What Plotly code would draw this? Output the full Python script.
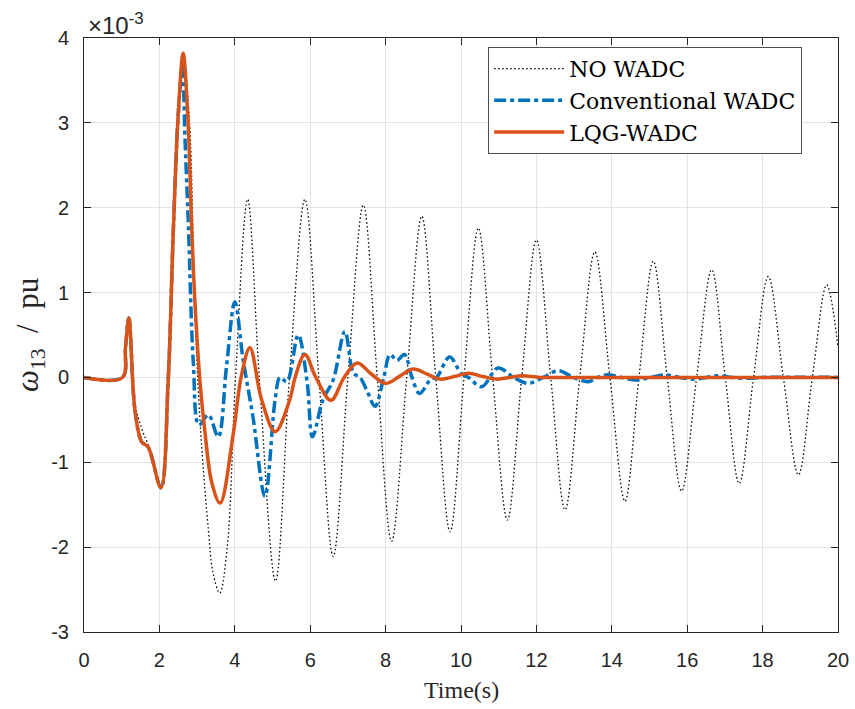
import plotly.graph_objects as go

# ---- data (values in units of 1e-3 pu) ----
t_no = [0, 1.02, 1.1, 1.19, 1.35, 1.53, 1.72, 2.04, 2.25, 2.37, 2.5, 2.65, 2.8, 2.94, 3.05,
        3.16, 3.3, 3.42, 3.6, 3.8, 4.02, 4.34, 4.65, 5.08, 5.45, 5.86, 6.23, 6.61, 7.0, 7.41,
        7.78, 8.16, 8.56, 8.96, 9.33, 9.71, 10.08, 10.46, 10.84, 11.23, 11.61, 12.0, 12.38,
        12.76, 13.15, 13.55, 13.95, 14.35, 14.72, 15.1, 15.47, 15.85, 16.25, 16.65, 17.01,
        17.38, 17.76, 18.15, 18.55, 18.95, 19.32, 19.7, 20.0]
y_no = [0, 0, 0.35, 0.70, -0.30, -0.60, -0.82, -1.30, 0.0, 1.74, 3.1, 3.7, 3.0, 0.8, -0.3,
        -1.05, -1.8, -2.3, -2.54, -2.0, 0.0, 2.10, 0.0, -2.40, 0.0, 2.10, 0.0, -2.11, 0.0, 2.03,
        0.0, -1.93, 0.0, 1.90, 0.0, -1.82, 0.0, 1.76, 0.0, -1.68, 0.0, 1.62, 0.0,
        -1.56, 0.0, 1.48, 0.0, -1.46, 0.0, 1.37, 0.0, -1.34, 0.0, 1.27, 0.0,
        -1.25, 0.0, 1.19, 0.0, -1.15, 0.0, 1.09, 0.36]

t_conv = [0, 1.02, 1.1, 1.19, 1.35, 1.53, 1.7, 2.04, 2.23, 2.37, 2.5, 2.61, 2.68, 2.77, 2.9,
          3.05, 3.3, 3.56, 3.78, 4.0, 4.22, 4.48, 4.8, 5.07, 5.2, 5.38, 5.68, 5.92, 6.06, 6.34,
          6.61, 6.92, 7.15, 7.32, 7.5, 7.72, 7.95, 8.12, 8.3, 8.5, 8.7, 8.9, 9.2, 9.35, 9.7,
          10.0, 10.2, 10.55, 10.98, 11.4, 11.78, 12.18, 12.58, 12.98, 13.38, 13.62, 13.86,
          14.26, 14.66, 15.03, 15.4, 15.8, 16.2, 16.5, 16.8, 17.2, 17.6, 18.0, 20.0]
y_conv = [0, 0, 0.35, 0.70, -0.38, -0.76, -0.82, -1.30, -0.07, 1.74, 3.1, 3.65, 2.8, 1.78, 0.17,
          -0.56, -0.44, -0.70, 0.13, 0.89, 0.21, -0.46, -1.40, -0.26, 0.0, -0.05, 0.50, -0.06, -0.70, -0.26,
          -0.03, 0.54, 0.05, 0.0, -0.15, -0.34, 0.0, 0.27, 0.20, 0.27, 0.0, -0.19, -0.02, 0.0, 0.24,
          0.05, 0.0, -0.11, 0.11, 0.0, -0.07, 0.0, 0.08, 0.0, -0.05, 0.0, 0.03,
          0.0, -0.03, 0.0, 0.03, 0.0, -0.02, 0.0, 0.02, 0.0, -0.01, 0.0, 0.0]

t_lqg = [0, 1.02, 1.1, 1.19, 1.35, 1.53, 1.7, 2.04, 2.23, 2.37, 2.5, 2.63, 2.75, 2.86, 2.94,
         3.08, 3.21, 3.39, 3.61, 3.96, 4.17, 4.4, 4.71, 5.07, 5.46, 5.6, 5.86, 6.15, 6.55,
         6.9, 7.25, 7.62, 8.0, 8.36, 8.73, 9.1, 9.45, 9.82, 10.2, 10.58, 10.95, 11.3, 11.6,
         12.1, 12.6, 20.0]
y_lqg = [0, 0, 0.35, 0.70, -0.38, -0.76, -0.82, -1.30, -0.07, 1.74, 3.1, 3.82, 3.1, 1.74, 0.91,
         -0.07, -0.65, -1.24, -1.48, -0.66, 0.01, 0.35, -0.26, -0.64, -0.26, 0.0, 0.27, 0.0, -0.27,
         0.0, 0.17, 0.04, -0.07, 0.01, 0.10, 0.04, -0.02, 0.01, 0.05, 0.01, -0.02, 0.0, 0.02,
         0.0, 0.0, 0.0]

series_names = ["NO WADC", "Conventional WADC", "LQG-WADC"]
x_ticks = list(range(0, 21, 2))
y_ticks = [-3, -2, -1, 0, 1, 2, 3, 4]
y_ticktext = ["-3", "-2", "-1", "0", "1", "2", "3", "4"]

fig = go.Figure()
fig.add_trace(go.Scatter(x=t_no, y=y_no, mode="lines", name=series_names[0],
                         line=dict(color="#000000", width=1.3, dash="1.5px,2.5px",
                                   shape="spline", smoothing=1.0)))
fig.add_trace(go.Scatter(x=t_conv, y=y_conv, mode="lines", name=series_names[1],
                         line=dict(color="#0072BD", width=3.5, dash="12px,4px,4px,4px",
                                   shape="spline", smoothing=1.0)))
fig.add_trace(go.Scatter(x=t_lqg, y=y_lqg, mode="lines", name=series_names[2],
                         line=dict(color="#D95319", width=3.5,
                                   shape="spline", smoothing=1.0)))

axis_common = dict(showline=True, linecolor="#262626", linewidth=1, mirror="ticks",
                   ticks="inside", ticklen=7, tickcolor="#262626", showgrid=True,
                   gridcolor="#e3e3e3", gridwidth=1, zeroline=False, automargin=False,
                   tickfont=dict(family="Liberation Sans, Arial", size=20, color="#262626"))

fig.update_layout(
    width=855, height=709, autosize=False,
    margin=dict(l=84, r=17, t=38, b=77),
    plot_bgcolor="white", paper_bgcolor="white",
    showlegend=True,
    legend=dict(x=0.536, y=0.985, xanchor="left", yanchor="top",
                bgcolor="white", bordercolor="#4d4d4d", borderwidth=1,
                font=dict(family="DejaVu Serif", size=22, color="#000000"),
                itemwidth=70, tracegroupgap=0),
    xaxis=dict(range=[0, 20], tickvals=x_ticks, ticklabelstandoff=10, **axis_common),
    yaxis=dict(range=[-3, 4], tickvals=y_ticks, ticktext=y_ticktext, ticklabelstandoff=10,
               **axis_common),
    hovermode=False,
)

fig.add_annotation(text="×10<sup>-3</sup>", xref="paper", yref="paper", x=0.002, y=1.0,
                   xanchor="left", yanchor="bottom", yshift=-3, showarrow=False,
                   font=dict(family="Liberation Sans, Arial", size=24, color="#262626"))
fig.add_annotation(text="<i>ω</i><sub>13</sub>&nbsp;&nbsp;/&nbsp;&nbsp;pu", xref="paper", yref="paper",
                   x=-0.0716, y=0.5, xanchor="center", yanchor="middle", textangle=-90,
                   showarrow=False,
                   font=dict(family="Liberation Serif, Times New Roman", size=31, color="#262626"))
fig.add_annotation(text="Time(s)", xref="paper", yref="paper", x=0.5, y=-0.0976,
                   xanchor="center", yanchor="middle", showarrow=False,
                   font=dict(family="Liberation Serif, Times New Roman", size=24, color="#262626"))

fig.write_html("out.html")
